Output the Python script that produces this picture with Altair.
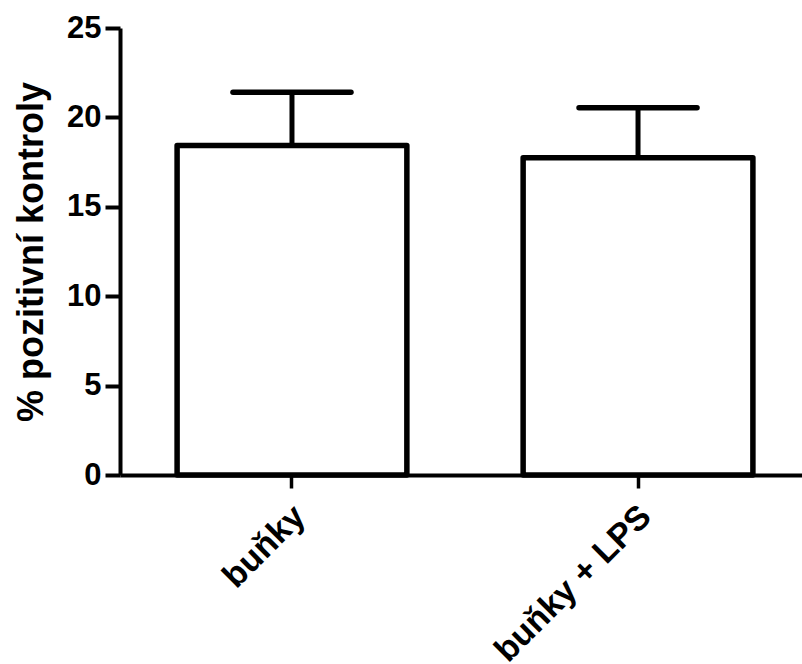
import altair as alt
import pandas as pd

categories = ["buňky", "buňky + LPS"]
means = [18.43, 17.74]
errors = [2.98, 2.80]

df = pd.DataFrame({
    "cat": categories,
    "mean": means,
    "upper": [m + e for m, e in zip(means, errors)],
})

FONT = "Liberation Sans"

x = alt.X(
    "cat:N",
    sort=categories,
    title=None,
    scale=alt.Scale(range=[0, 690], paddingInner=0.336, paddingOuter=0.165),
    axis=alt.Axis(
        labelAngle=-45,
        labelFont=FONT,
        labelFontSize=34,
        labelFontWeight="bold",
        labelColor="black",
        labelPadding=11,
        labelOffset=-4,
        labelLimit=0,
        domainColor="black",
        domainWidth=4,
        tickColor="black",
        tickWidth=3.5,
        tickSize=13,
        grid=False,
    ),
)

y = alt.Y(
    "mean:Q",
    title="% pozitivní kontroly",
    scale=alt.Scale(domain=[0, 25], nice=False),
    axis=alt.Axis(
        values=[0, 5, 10, 15, 20, 25],
        labelFont=FONT,
        labelFontSize=31,
        labelFontWeight="bold",
        labelColor="black",
        labelPadding=4,
        titleFont=FONT,
        titleFontSize=36,
        titleFontWeight="bold",
        titleColor="black",
        titlePadding=16,
        domainColor="black",
        domainWidth=4,
        tickColor="black",
        tickWidth=4,
        tickSize=15,
        grid=False,
    ),
)

bars = alt.Chart(df).mark_bar(
    fill="white", stroke="black", strokeWidth=5.5, strokeJoin="round"
).encode(x=x, y=y)

stem = alt.Chart(df).mark_rule(color="black", strokeWidth=5).encode(
    x=alt.X("cat:N", sort=categories),
    y="mean:Q",
    y2="upper:Q",
)

cap = alt.Chart(df).mark_rule(
    color="black", strokeWidth=5.5, strokeCap="round", xOffset=-59, x2Offset=59
).encode(
    x=alt.X("cat:N", sort=categories),
    x2=alt.X2("cat:N"),
    y="upper:Q",
)

chart = alt.layer(bars, stem, cap).properties(
    width=682,
    height=447,
    background="white",
    autosize=alt.AutoSizeParams(type="none"),
    padding={"left": 120, "top": 28, "right": 0, "bottom": 189},
).configure_view(stroke=None)

chart.save("out.html", embed_options={"renderer": "svg", "actions": False})
